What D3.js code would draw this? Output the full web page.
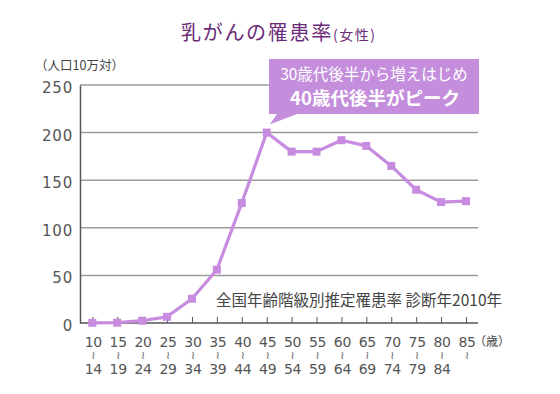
<!DOCTYPE html>
<html><head><meta charset="utf-8">
<script src="https://cdn.jsdelivr.net/npm/d3@7"></script>
<style>
html,body{margin:0;padding:0;background:#fff;}
svg{display:block;font-family:"Noto Sans CJK JP","Noto Sans",sans-serif;}
</style></head>
<body>
<svg id="c" width="560" height="394"></svg>
<script>
const startAges = ["10","15","20","25","30","35","40","45","50","55","60","65","70","75","80","85"];
const endAges   = ["14","19","24","29","34","39","44","49","54","59","64","69","74","79","84",""];
const rates     = [0.2,0.3,2.4,6.5,25.5,56,126,200,180,180,192,186,165,140,127,128];
const yTicks    = [0,50,100,150,200,250];
const titleMain = "乳がんの罹患率";
const titleSub  = "(女性)";
const yUnit     = "（人口10万対）";
const xUnit     = "（歳）";
const note      = "全国年齢階級別推定罹患率 診断年2010年";
const callout1  = "30歳代後半から増えはじめ";
const callout2  = "40歳代後半がピーク";

const svg = d3.select("#c");
const purple = "#c78bdf";
const numFont = "'DejaVu Sans','Noto Sans',sans-serif";
const x = d3.scalePoint().domain(startAges).range([92.3, 466]);
const y = d3.scaleLinear().domain([0,250]).range([323, 85]);
const xL = 80, xR = 478;

// title
const t = svg.append("text").attr("x", 181).attr("y", 40).attr("fill","#6b2a78");
t.append("tspan").attr("font-size",20).attr("letter-spacing",1.7).text(titleMain);
t.append("tspan").attr("font-size",14).attr("letter-spacing",1.5).text(titleSub);

// y unit
svg.append("text").attr("x",35).attr("y",70).attr("font-size",12.5).attr("fill","#444").text(yUnit);

// gridlines
svg.append("g").selectAll("line").data(yTicks.filter(d=>d>0)).join("line")
  .attr("x1",xL).attr("x2",xR).attr("y1",d=>y(d)).attr("y2",d=>y(d))
  .attr("stroke","#9a9a9a").attr("stroke-width",1.5);

// y axis
const ya = svg.append("g").attr("transform",`translate(${xL},0)`)
  .call(d3.axisLeft(y).tickValues(yTicks).tickSize(0).tickPadding(7));
ya.select(".domain").attr("stroke","#555").attr("stroke-width",1.5);
ya.selectAll("text").attr("font-size",15).attr("fill","#555").attr("dy","0.5em")
  .attr("font-family",numFont).attr("letter-spacing",0.8);

// x axis
const xa = svg.append("g").attr("transform",`translate(0,${y(0)})`)
  .call(d3.axisBottom(x).tickSize(-6).tickFormat(""));
xa.select(".domain").attr("d",`M${xL},0H${xR}`).attr("stroke","#555").attr("stroke-width",1.5);
xa.selectAll(".tick line").attr("stroke","#555");

const lbl = svg.append("g").attr("fill","#555").attr("font-family",numFont);
lbl.selectAll("text.s").data(startAges).join("text").attr("class","s")
  .attr("x",d=>x(d)+1).attr("y",347).attr("text-anchor","middle").attr("font-size",14)
  .attr("letter-spacing",-0.3).text(d=>d);
lbl.selectAll("text.w").data(startAges).join("text").attr("class","w")
  .attr("x",d=>x(d)+1).attr("y",359).attr("text-anchor","middle")
  .attr("font-size",11).attr("fill","#666").text("≀");
lbl.selectAll("text.e").data(startAges).join("text").attr("class","e")
  .attr("x",d=>x(d)+1).attr("y",374).attr("text-anchor","middle").attr("font-size",14)
  .attr("letter-spacing",-0.3).text((d,i)=>endAges[i]);
svg.append("text").attr("x",474).attr("y",346).attr("font-size",12).attr("fill","#444").text(xUnit);

// note
svg.append("text").attr("x",502).attr("y",306).attr("text-anchor","end").attr("font-size",15.5)
  .attr("fill","#444").text(note);

// line
svg.append("path").datum(rates)
  .attr("d", d3.line().x((d,i)=>x(startAges[i])).y(d=>y(d)))
  .attr("fill","none").attr("stroke",purple).attr("stroke-width",3.2).attr("stroke-linejoin","round");
svg.append("g").selectAll("rect").data(rates).join("rect")
  .attr("x",(d,i)=>x(startAges[i])-4).attr("y",d=>y(d)-4).attr("width",8).attr("height",8)
  .attr("fill",purple);

// callout
const bx0=269, by0=59, bx1=479, by1=114;
const peakX = x(startAges[7]), peakY = y(rates[7]);
svg.append("path")
  .attr("d",`M${bx0},${by0}H${bx1}V${by1}H297L${peakX+3},${peakY-8}L277,${by1}H${bx0}Z`)
  .attr("fill","#c48edc");
svg.append("text").attr("x",374).attr("y",80).attr("text-anchor","middle").attr("font-size",15.5)
  .attr("fill","#fff").text(callout1);
svg.append("text").attr("x",375).attr("y",105).attr("text-anchor","middle").attr("font-size",18.5)
  .attr("font-weight","bold").attr("fill","#fff").text(callout2);
</script>
</body></html>
